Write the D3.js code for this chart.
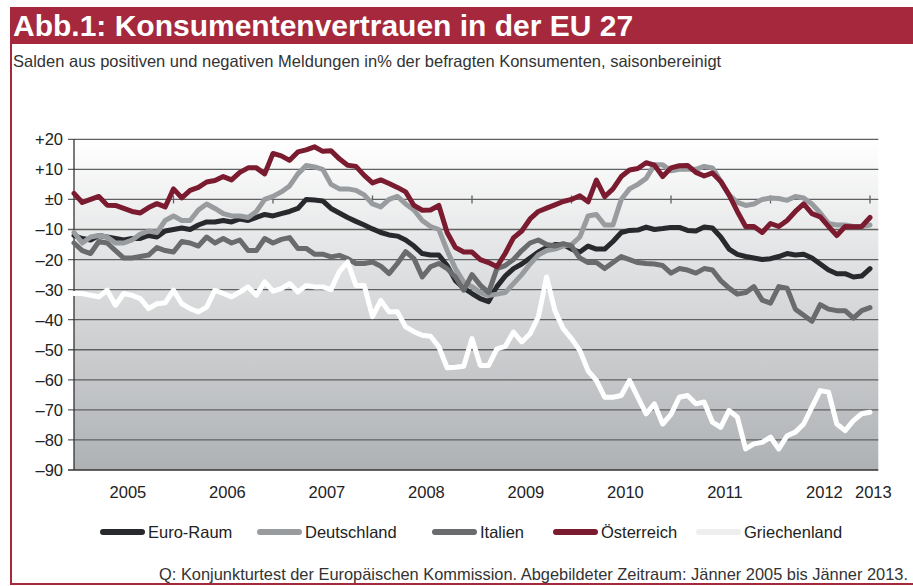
<!DOCTYPE html>
<html>
<head>
<meta charset="utf-8">
<script src="https://cdn.jsdelivr.net/npm/d3@7"></script>
<style>
  body { margin: 0; background: #fff; }
  svg { display: block; font-family: "Liberation Sans", Arial, sans-serif; }
</style>
</head>
<body>
<div id="chart"></div>
<script>
// monthly values, Jänner 2005 .. Jänner 2013 (97 months)
var euroRaum = [-12,-13,-13.5,-12,-12.5,-13,-13.5,-13,-13,-12,-12.5,-10.5,
  -10,-9.5,-10,-8.5,-7.5,-7.5,-7,-7.5,-6.5,-7,-6,-5,
  -5.5,-4.7,-4,-3,0,-0.2,-0.5,-3,-4.5,-6,-7.3,-8.5,
  -9.8,-11,-11.8,-12.2,-13.5,-15.5,-18,-18.5,-18.5,-22,-27,-29.5,
  -31.3,-33,-34,-29,-25.5,-23,-21.5,-19.5,-17.5,-16,-15,-15,
  -16.5,-17.5,-15.5,-16.5,-16.5,-14,-11,-10.3,-10.2,-9.2,-10,-9.7,
  -9.3,-9.3,-10.3,-10.5,-9.2,-9.5,-12.5,-16.5,-18.3,-19,-19.5,-20,
  -19.7,-19,-18,-18.5,-18.2,-19.5,-21.5,-23.5,-24.7,-24.7,-25.8,-25.5,
  -23];
var deutschland = [-11,-14.5,-12.5,-12,-12.5,-14.5,-14.5,-13.5,-11.5,-10.5,-11,-7,
  -5.5,-7,-7,-3.5,-1.5,-3,-4.7,-5.5,-5.5,-6,-4,0,
  1,2.5,4.5,8.5,11.3,10.8,10,5,3.5,3.5,3,1.5,
  -1.5,-2.5,0,1,-1.5,-3.5,-7,-9,-10,-17,-23,-27.5,
  -29,-31,-32,-31.5,-31,-28,-25,-21.5,-18.5,-17,-16.5,-15.5,
  -15,-12.5,-5.5,-5,-8.5,-8.5,0,3.5,5,7,11.5,11.5,
  9.5,10,10,10,11,10.5,6,1.5,-1,-2,-1.5,0,
  0.5,0.3,-0.3,1,0.5,-1.5,-4.5,-8,-8.5,-8.5,-9,-9,
  -8.5];
var italien = [-14.5,-17,-18,-14,-14.5,-17,-19.5,-19.5,-19,-18.5,-16,-17,
  -17.5,-14,-14.5,-15.5,-12.5,-14.5,-13,-14.5,-13.5,-17,-17,-13,
  -14.5,-13.3,-12.7,-16.3,-16.3,-18.2,-18.2,-19.1,-18.6,-19.7,-21.3,-21.3,
  -20.8,-22.2,-24.7,-21.3,-17.4,-19.7,-25.8,-22.4,-21.3,-23,-25.8,-30.2,
  -25,-28.5,-31,-23,-22,-20,-17,-14.5,-13.5,-15,-15.5,-14.7,
  -15.5,-19.5,-21,-21,-23,-21,-19,-20,-21,-21.3,-21.5,-22,
  -24.5,-23,-23.5,-24.5,-23,-23.5,-27,-29.5,-31.5,-31,-29,-33.5,
  -34.5,-29,-29.5,-36.5,-38.5,-40.5,-35,-36.5,-37,-37,-39.5,-37,
  -36];
var oesterreich = [2,-1,0,1,-1.9,-2,-3,-4,-4.5,-2.7,-1.4,-2.5,
  3.5,0.5,3,4,5.8,6.3,7.6,6.5,9,10.5,10.5,8.5,
  15.3,14.5,13,15.8,16.5,17.5,16,16.2,13.5,11.4,11,8,
  5.5,6.5,5.3,4,2.5,-2,-3.6,-3.5,-2,-11,-16,-17.5,
  -17.5,-20,-21,-22.4,-18,-12.8,-10.5,-6.5,-4,-2.9,-1.8,-0.7,
  0,1.2,-0.8,6.4,0.9,3.5,7.6,9.8,10.3,12.2,11.4,7.6,
  10.5,11.2,11.3,9,7.8,8.8,6,1.5,-4,-9,-9,-11,
  -8,-9,-7,-4,-1.5,-4.7,-5.8,-9,-12,-9,-9.1,-9,
  -6];
var griechenland = [-31.3,-31.3,-31.9,-32.4,-30.2,-35.2,-31.3,-31.9,-33,-36.3,-34.7,-34.4,
  -30.2,-34.7,-36.3,-37.4,-35.8,-30.2,-31.3,-32.4,-30.8,-29.1,-31.9,-27.4,
  -30.5,-29.7,-28,-30.8,-28.6,-29.1,-29.1,-30,-24,-20.8,-28.6,-28.6,
  -39,-33.6,-37.4,-37.4,-42.4,-44,-45.2,-45.5,-49,-56,-55.8,-55.5,
  -46.3,-55.2,-55.2,-49.7,-48.9,-44.1,-47.4,-44.7,-39.1,-25.8,-37,-43,
  -46.3,-50.2,-57,-60.2,-65.8,-65.8,-65.2,-60.2,-65.8,-71.3,-68,-74.7,
  -71.5,-65.8,-65.2,-68,-67.4,-74.1,-75.8,-70.2,-72.4,-83,-81.3,-80.8,
  -79.1,-83,-78.6,-77.4,-74.7,-69.1,-63.6,-64.1,-74.7,-76.9,-73.6,-71.3,
  -70.8];

var seriesNames = ["Euro-Raum", "Deutschland", "Italien", "Österreich", "Griechenland"];
var seriesColors = ["#27292c", "#999c9f", "#696b6d", "#7b1b30", "#ffffff"];
var legendColors = ["#27292c", "#999c9f", "#696b6d", "#7b1b30", "#eeeeee"];
var yearLabels = ["2005", "2006", "2007", "2008", "2009", "2010", "2011", "2012", "2013"];
var yTicks = [20, 10, 0, -10, -20, -30, -40, -50, -60, -70, -80, -90];

var series = [euroRaum, deutschland, italien, oesterreich, griechenland];

var W = 913, H = 586;
var plot = {left: 74, right: 870, top: 139.3, bottom: 470};

var svg = d3.select("#chart").append("svg")
  .attr("width", W).attr("height", H);

// frame + title bar
svg.append("rect").attr("x", 10).attr("y", 7).attr("width", W - 10).attr("height", 37)
  .attr("fill", "#a5283c");
svg.append("line").attr("x1", 11).attr("x2", 11).attr("y1", 40).attr("y2", 584)
  .attr("stroke", "#a5283c").attr("stroke-width", 2);
svg.append("line").attr("x1", 10).attr("x2", W).attr("y1", 584).attr("y2", 584)
  .attr("stroke", "#a5283c").attr("stroke-width", 2);

svg.append("text").attr("x", 13).attr("y", 36)
  .attr("fill", "#fff").attr("font-size", 30).attr("font-weight", "bold")
  .text("Abb.1: Konsumentenvertrauen in der EU 27");
svg.append("text").attr("x", 13).attr("y", 67)
  .attr("fill", "#333").attr("font-size", 16.5)
  .text("Salden aus positiven und negativen Meldungen in% der befragten Konsumenten, saisonbereinigt");

var x = d3.scaleLinear().domain([0, 96]).range([plot.left, plot.right]);
var y = d3.scaleLinear().domain([-90, 20]).range([plot.bottom, plot.top]);

// plot background gradient
var grad = svg.append("defs").append("linearGradient")
  .attr("id", "bg").attr("x1", 0).attr("x2", 0).attr("y1", 0).attr("y2", 1);
grad.append("stop").attr("offset", "0%").attr("stop-color", "#ffffff");
grad.append("stop").attr("offset", "100%").attr("stop-color", "#aeb1b4");

svg.append("rect")
  .attr("x", x(0)).attr("y", y(20))
  .attr("width", x(97) - x(0)).attr("height", y(-90) - y(20))
  .attr("fill", "url(#bg)");

// gridlines
svg.append("g").selectAll("line")
  .data(yTicks.filter(d => d > -90))
  .enter().append("line")
  .attr("x1", x(0) - 6).attr("x2", x(97))
  .attr("y1", d => y(d)).attr("y2", d => y(d))
  .attr("stroke", "#5f6062").attr("stroke-width", 1.3);

// year ticks on the zero line
svg.append("g").selectAll("line")
  .data(d3.range(12, 97, 12))
  .enter().append("line")
  .attr("x1", d => x(d)).attr("x2", d => x(d))
  .attr("y1", y(0) - 4).attr("y2", y(0) + 4)
  .attr("stroke", "#5f6062").attr("stroke-width", 1.3);

// axes
svg.append("line").attr("x1", x(0)).attr("x2", x(0)).attr("y1", y(20)).attr("y2", y(-90))
  .attr("stroke", "#333").attr("stroke-width", 1.3);
svg.append("line").attr("x1", x(0) - 6).attr("x2", x(97)).attr("y1", y(-90)).attr("y2", y(-90))
  .attr("stroke", "#333").attr("stroke-width", 1.3);

var fmt = function(d){
  if (d > 0) return "+" + d;
  if (d === 0) return "±0";
  return "\u2013" + Math.abs(d);
};

svg.append("g").selectAll("text")
  .data(yTicks)
  .enter().append("text")
  .attr("x", x(0) - 11).attr("y", d => y(d) + 6)
  .attr("text-anchor", "end").attr("font-size", 16.5).attr("fill", "#222")
  .text(fmt);

svg.append("g").selectAll("text")
  .data(yearLabels)
  .enter().append("text")
  .attr("x", (d, i) => i < 8 ? x(i * 12 + 6.5) : x(96.4))
  .attr("y", 498)
  .attr("text-anchor", "middle").attr("font-size", 16.5).attr("fill", "#222")
  .text(d => d);

// lines
var line = d3.line().x((d, i) => x(i)).y(d => y(d));

svg.append("g").selectAll("path")
  .data(series)
  .enter().append("path")
  .attr("d", line)
  .attr("fill", "none")
  .attr("stroke", (d, i) => seriesColors[i])
  .attr("stroke-width", 5)
  .attr("stroke-linejoin", "round")
  .attr("stroke-linecap", "round");

// legend
var legendX = [100, 257, 432, 553, 696];
var legend = svg.append("g").selectAll("g")
  .data(seriesNames)
  .enter().append("g")
  .attr("transform", (d, i) => "translate(" + legendX[i] + ",532)");
legend.append("line")
  .attr("x1", 3).attr("x2", 42).attr("y1", 0).attr("y2", 0)
  .attr("stroke", (d, i) => legendColors[i])
  .attr("stroke-width", 6).attr("stroke-linecap", "round");
legend.append("text")
  .attr("x", 48).attr("y", 6)
  .attr("font-size", 16.5).attr("fill", "#222")
  .text(d => d);

svg.append("text").attr("x", 908).attr("y", 580)
  .attr("text-anchor", "end").attr("font-size", 16.4).attr("fill", "#333")
  .text("Q: Konjunkturtest der Europäischen Kommission. Abgebildeter Zeitraum: Jänner 2005 bis Jänner 2013.");
</script>
</body>
</html>
